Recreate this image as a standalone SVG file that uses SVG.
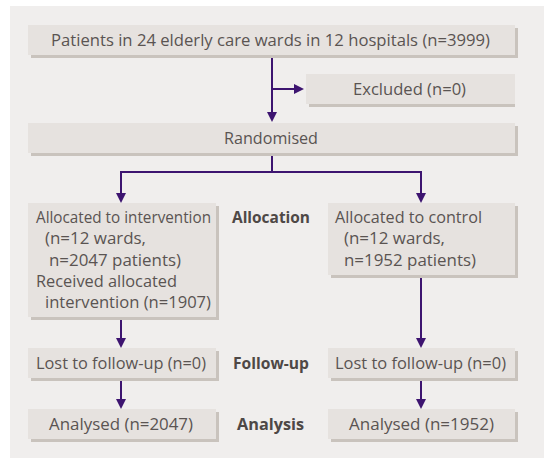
<svg xmlns="http://www.w3.org/2000/svg" width="544" height="464" viewBox="0 0 544 464">
<defs>
<style>
.sh{fill:#c9c3bd}
.bx{fill:#e6e2df}
.t{font-family:"Open Sans","Noto Sans",sans-serif;font-size:16px;fill:#5a5452}
.b{font-family:"Open Sans","Noto Sans",sans-serif;font-size:16.5px;font-weight:bold;fill:#4e4846}
.c{fill:none;stroke:#3d1470;stroke-width:2}
.a{fill:#3d1470}
</style>
</defs>
<rect x="10" y="6" width="534" height="452" fill="#f0eeed"/>
<g id="connectors">
<path class="c" d="M272,55 V117"/>
<path class="c" d="M272,89 H300"/>
<path class="c" d="M272,153 V172 M121,172 H421 M121,171 V197 M421,171 V197"/>
<path class="c" d="M121,317 V342"/>
<path class="c" d="M421,275 V342"/>
<path class="c" d="M121,378 V403"/>
<path class="c" d="M421,378 V403"/>
<path class="a" d="M267,112 L277,112 L272,122 z"/>
<path class="a" d="M294,84 L304,89 L294,94 z"/>
<path class="a" d="M116,193 L126,193 L121,203 z"/>
<path class="a" d="M416,193 L426,193 L421,203 z"/>
<path class="a" d="M116,338 L126,338 L121,348 z"/>
<path class="a" d="M416,338 L426,338 L421,348 z"/>
<path class="a" d="M116,399 L126,399 L121,409 z"/>
<path class="a" d="M416,399 L426,399 L421,409 z"/>
</g>
<g id="patients">
<rect class="sh" x="31" y="28" width="487" height="30"/>
<rect class="bx" x="28" y="25" width="487" height="30"/>
<text class="t" x="51" y="46" textLength="439" lengthAdjust="spacingAndGlyphs">Patients in 24 elderly care wards in 12 hospitals (n=3999)</text>
</g>
<g id="excluded">
<rect class="sh" x="309" y="77" width="206" height="30"/>
<rect class="bx" x="306" y="74" width="209" height="30"/>
<text class="t" x="353" y="95" textLength="113" lengthAdjust="spacingAndGlyphs">Excluded (n=0)</text>
</g>
<g id="randomised">
<rect class="sh" x="31" y="126" width="487" height="30"/>
<rect class="bx" x="28" y="123" width="487" height="30"/>
<text class="t" x="224" y="144" textLength="94" lengthAdjust="spacingAndGlyphs">Randomised</text>
</g>
<g id="alloc-int">
<rect class="sh" x="31" y="206" width="188" height="114"/>
<rect class="bx" x="28" y="203" width="188" height="114"/>
<text class="t" x="36" y="223" textLength="175" lengthAdjust="spacingAndGlyphs">Allocated to intervention</text>
<text class="t" x="45" y="244" textLength="101" lengthAdjust="spacingAndGlyphs">(n=12 wards,</text>
<text class="t" x="49" y="266" textLength="132" lengthAdjust="spacingAndGlyphs">n=2047 patients)</text>
<text class="t" x="36" y="287" textLength="141" lengthAdjust="spacingAndGlyphs">Received allocated</text>
<text class="t" x="45" y="308" textLength="166" lengthAdjust="spacingAndGlyphs">intervention (n=1907)</text>
</g>
<g id="alloc-label">
<text class="b" x="232" y="223" textLength="78" lengthAdjust="spacingAndGlyphs">Allocation</text>
</g>
<g id="alloc-ctl">
<rect class="sh" x="331" y="206" width="187" height="72"/>
<rect class="bx" x="328" y="203" width="187" height="72"/>
<text class="t" x="335" y="223" textLength="147" lengthAdjust="spacingAndGlyphs">Allocated to control</text>
<text class="t" x="344" y="244" textLength="101" lengthAdjust="spacingAndGlyphs">(n=12 wards,</text>
<text class="t" x="344" y="266" textLength="132" lengthAdjust="spacingAndGlyphs">n=1952 patients)</text>
</g>
<g id="lost-int">
<rect class="sh" x="31" y="351" width="188" height="30"/>
<rect class="bx" x="28" y="348" width="188" height="30"/>
<text class="t" x="36" y="369" textLength="170" lengthAdjust="spacingAndGlyphs">Lost to follow-up (n=0)</text>
</g>
<g id="followup-label">
<text class="b" x="233" y="369" textLength="76" lengthAdjust="spacingAndGlyphs">Follow-up</text>
</g>
<g id="lost-ctl">
<rect class="sh" x="331" y="351" width="187" height="30"/>
<rect class="bx" x="328" y="348" width="187" height="30"/>
<text class="t" x="335" y="369" textLength="171" lengthAdjust="spacingAndGlyphs">Lost to follow-up (n=0)</text>
</g>
<g id="analysed-int">
<rect class="sh" x="31" y="412" width="188" height="30"/>
<rect class="bx" x="28" y="409" width="188" height="30"/>
<text class="t" x="49" y="430" textLength="144" lengthAdjust="spacingAndGlyphs">Analysed (n=2047)</text>
</g>
<g id="analysis-label">
<text class="b" x="237" y="430" textLength="67" lengthAdjust="spacingAndGlyphs">Analysis</text>
</g>
<g id="analysed-ctl">
<rect class="sh" x="331" y="412" width="187" height="30"/>
<rect class="bx" x="328" y="409" width="187" height="30"/>
<text class="t" x="349" y="430" textLength="145" lengthAdjust="spacingAndGlyphs">Analysed (n=1952)</text>
</g>
</svg>
